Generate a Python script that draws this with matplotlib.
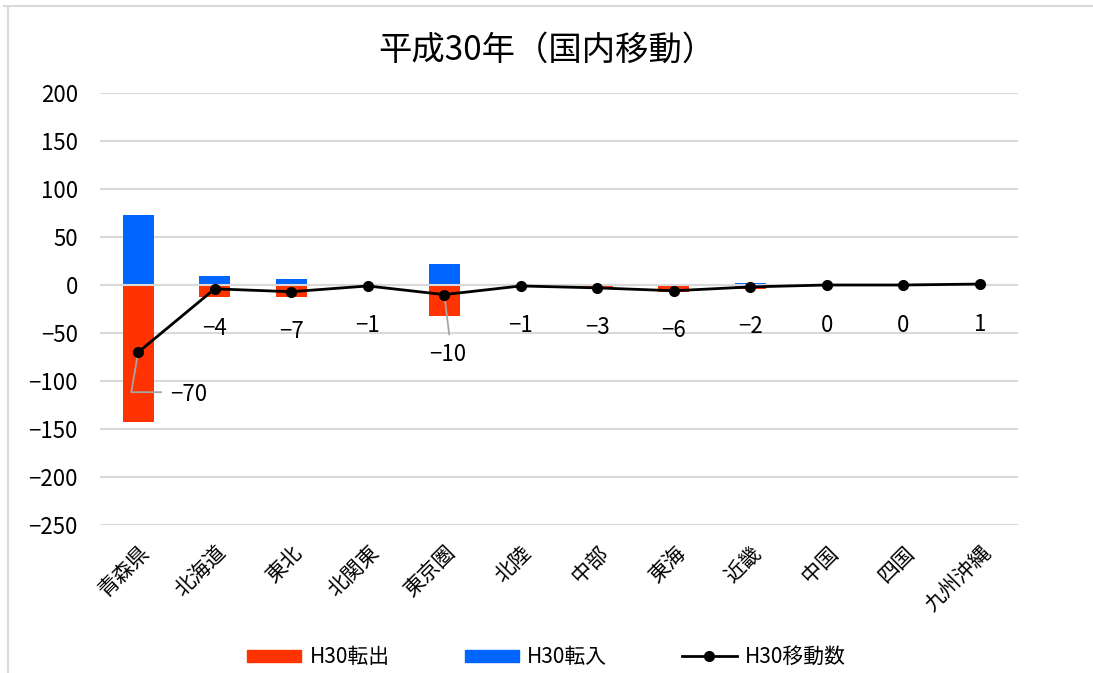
import numpy as np
import matplotlib
matplotlib.use("Agg")
import matplotlib.pyplot as plt
from matplotlib.patches import Patch
from matplotlib.lines import Line2D

plt.rcParams['font.family'] = ['Noto Sans CJK JP', 'DejaVu Sans']

regions = ["青森県", "北海道", "東北", "北関東", "東京圏", "北陸", "中部", "東海", "近畿", "中国", "四国", "九州沖縄"]
outflow = [-143, -13, -13, -1, -32, -1, -3, -7, -4, 0, 0, 0]
inflow = [73, 9, 6, 0, 22, 0, 0, 1, 2, 0, 0, 1]
net = [-70, -4, -7, -1, -10, -1, -3, -6, -2, 0, 0, 1]

RED = "#FF3300"
BLUE = "#0066FF"
GRID = "#D9D9D9"

fig = plt.figure(figsize=(10.93, 6.73), dpi=100)
ax = fig.add_axes([100 / 1093, 148 / 673, 918 / 1093, 432 / 673])

x = np.arange(len(regions))
ax.bar(x, outflow, width=0.4, color=RED, zorder=2)
ax.bar(x, inflow, width=0.4, color=BLUE, zorder=2)
ax.axhline(0, color=GRID, lw=1.5, zorder=3)
ax.plot(x, net, color="black", lw=2, marker="o", markersize=7, zorder=4)

# data labels under each point; two of them pulled away with leader lines
for i, v in enumerate(net):
    txt = str(v).replace("-", "\u2212")
    if i == 0:
        ax.annotate(txt, (i, v), xytext=(50, -42), textcoords="offset pixels",
                    ha="center", va="center", fontsize=16)
        ax.annotate("", (i, v), xytext=(23, -40), textcoords="offset pixels",
                    arrowprops=dict(arrowstyle="-", color="#A6A6A6", lw=1.3,
                                    shrinkA=0, shrinkB=0,
                                    connectionstyle="angle,angleA=0,angleB=80,rad=0"))
    elif i == 4:
        ax.annotate(txt, (i, v), xytext=(3, -60), textcoords="offset pixels",
                    ha="center", va="center", fontsize=16)
        ax.annotate("", (i, v), xytext=(5, -40), textcoords="offset pixels",
                    arrowprops=dict(arrowstyle="-", color="#A6A6A6", lw=1.3,
                                    shrinkA=0, shrinkB=0))
    else:
        ax.annotate(txt, (i, v), xytext=(0, -40), textcoords="offset pixels",
                    ha="center", va="center", fontsize=16)

ax.set_xlim(-0.5, len(regions) - 0.5)
ax.set_ylim(-250, 200)
ax.set_yticks(np.arange(-250, 201, 50))
ax.yaxis.grid(True, color=GRID, lw=1.5, zorder=0)
ax.set_axisbelow(True)
for s in ax.spines.values():
    s.set_visible(False)
ax.tick_params(axis="both", length=0, labelsize=16)
ax.tick_params(axis="y", pad=16)
ax.set_xticks(x)
ax.set_xticklabels(regions, rotation=45, ha="right", va="top",
                   rotation_mode="anchor", fontsize=15)
ax.tick_params(axis="x", pad=12)

fig.text(0.5, 1 - 50 / 673, "平成30年（国内移動）", ha="center", va="center", fontsize=24)

handles = [Patch(color=RED, label="H30転出"),
           Patch(color=BLUE, label="H30転入"),
           Line2D([], [], color="black", lw=2, marker="o", markersize=7, label="H30移動数")]
fig.legend(handles=handles, loc="center", bbox_to_anchor=(0.5, 16 / 673), ncol=3,
           frameon=False, fontsize=15, handlelength=2.6, handleheight=0.5,
           columnspacing=3.6, handletextpad=0.4, borderpad=0)

# chart area border
fig.add_artist(Line2D([4 / 1093, 1], [1 - 6 / 673, 1 - 6 / 673], color=GRID, lw=1.5,
                      transform=fig.transFigure))
fig.add_artist(Line2D([8 / 1093, 8 / 1093], [0, 1 - 6 / 673], color=GRID, lw=1.5,
                      transform=fig.transFigure))

fig.savefig("out.png", dpi=100)
